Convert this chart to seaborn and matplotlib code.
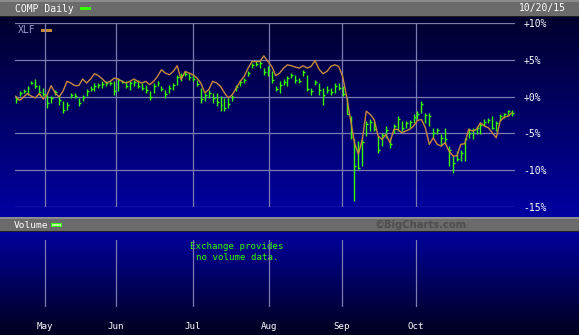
import numpy as np
import pandas as pd
import matplotlib
matplotlib.use("Agg")
import matplotlib.pyplot as plt
import matplotlib.patches as mpatches
from matplotlib.colors import to_rgb
import seaborn as sns

# ---------------- data (percent change) ----------------
comp_high = [0.05, 0.72, 1.04, 1.49, 2.07, 2.39, 1.62, 1.17, 0.27, 0.05,
             0.95, 0.27, -0.63, -0.77, 0.5, 0.5, -0.18, 0.27, 1.04, 1.4,
             1.85, 1.85, 2.07, 2.07, 2.07, 2.07, 2.52, 2.3, 2.07, 2.07,
             2.3,
             2.3, 1.85, 1.62, 0.72, 1.85, 2.07, 1.4, 0.95, 1.62, 1.85,
             2.97, 3.2, 3.42, 3.2, 2.97, 2.3, 1.17, 0.5, 0.95, 0.5,
             0.5, 0.05, -0.18, -0.18, 0.27, 1.62, 2.3, 2.52, 3.42, 4.55,
             4.77, 4.77,
             3.87, 4.1, 3.42, 1.4, 2.07, 2.39, 2.84, 3.2, 2.97, 2.52,
             3.65, 2.97, 1.17, 2.3, 1.85, 1.17, 1.4, 1.17, 1.85, 1.85,
             1.4, -0.18, -2.66, -5.81, -6.04, -5.81, -3.33, -3.11, -3.33, -5.36,
             -4.91, -4.01,
             -5.59, -3.69, -2.66, -3.33, -3.33, -3.24, -2.43, -1.98, -0.63, -2.21,
             -2.21, -4.23, -4.23, -5.14, -4.23, -6.71, -8.06, -7.39, -7.30, -5.59,
             -4.23, -4.23, -4.01, -3.56, -3.11, -2.97, -2.66, -3.33, -2.43, -2.21,
             -1.76, -1.76]
comp_low = [-0.86, 0.14, 0.5, 0.27, 1.71, 1.17, 0.27, 0.05, -1.53, -0.86,
            0.27, -1.08, -2.2, -1.76, -0.18, -0.18, -1.31, -0.63, 0.05, 0.72,
            0.72, 1.17, 1.17, 1.4, 1.62, 0.27, 0.72, 1.85, 1.17, 0.95,
            1.4,
            1.17, 0.95, 0.5, -0.41, 0.5, 1.4, 0.72, -0.18, 0.5, 0.95,
            1.62, 2.07, 2.75, 2.3, 2.07, 1.4, -0.86, -0.63, -0.18, -0.86,
            -1.31, -1.98, -1.98, -1.53, -0.63, 0.72, 1.4, 1.85, 2.75, 3.87,
            4.1, 3.87,
            2.97, 2.75, 1.85, 0.72, 0.5, 1.62, 1.4, 2.52, 1.85, 1.85,
            2.75, 0.72, 0.27, 1.62, 0.27, -1.08, 0.5, 0.27, 0.5, 0.95,
            0.05, -2.43, -5.81, -14.14, -9.86, -9.41, -5.36, -4.68, -4.68, -7.61,
            -6.71, -5.59,
            -6.94, -4.91, -4.68, -4.68, -4.23, -4.23, -3.56, -3.11, -2.21, -3.56,
            -4.01, -5.59, -5.14, -6.71, -6.49, -9.41, -10.32, -8.74, -8.74, -8.74,
            -5.59, -5.81, -5.14, -5.14, -4.01, -3.56, -4.46, -4.68, -3.33, -2.88,
            -2.66, -2.66]
comp_close = [-0.3, 0.5, 0.8, 1.2, 1.9, 1.5, 0.6, 0.4, -0.9, -0.2,
              0.6, -0.5, -1.8, -1.2, 0.2, 0.1, -0.9, 0.0, 0.7, 1.1,
              1.5, 1.6, 1.7, 1.8, 1.9, 0.8, 2.2, 2.0, 1.5, 1.8,
              2.0,
              1.5, 1.2, 0.9, 0.0, 1.4, 1.8, 1.0, 0.3, 1.2, 1.6,
              2.6, 2.9, 3.1, 2.6, 2.4, 1.7, -0.3, 0.2, 0.5, -0.2,
              -0.8, -1.2, -1.5, -1.0, -0.1, 1.3, 2.0, 2.3, 3.2, 4.3,
              4.4, 4.5,
              3.3, 3.6, 2.2, 1.0, 1.6, 2.0, 2.5, 2.9, 2.3, 2.1,
              3.3, 1.0, 0.8, 2.0, 0.9, 0.2, 0.9, 0.6, 1.4, 1.2,
              0.4, -2.3, -5.5, -9.4, -9.7, -6.2, -3.7, -3.4, -4.4, -7.2,
              -5.2, -4.5,
              -6.5, -4.0, -3.0, -4.2, -3.6, -3.5, -2.8, -2.3, -1.0, -2.5,
              -2.6, -5.0, -4.6, -5.6, -5.8, -7.2, -9.0, -8.5, -7.6, -5.8,
              -4.9, -4.5, -4.3, -3.8, -3.4, -3.2, -4.2, -3.6, -2.6, -2.4,
              -2.0, -2.2]
xlf = [0.05, -0.5, -0.05, 0.41, 0.05, -0.18, 0.41, -0.32, 0.27, 1.49,
       0.5, -0.05, 0.72, 2.07, 1.85, 1.49, 1.49, 2.39, 1.85, 2.39,
       3.11, 2.84, 2.39, 1.85, 2.07, 2.52, 2.39, 2.07, 1.85, 2.07,
       2.39,
       2.07, 1.85, 2.07, 1.62, 2.07, 2.75, 3.65, 3.2, 2.97, 3.42,
       4.19, 2.3, 3.42, 3.2, 2.97, 2.52, 1.85, 0.5, 0.95, 2.07,
       1.85, 1.4, 0.5, -0.18, 0.27, 1.17, 2.07, 2.75, 3.87, 4.77,
       4.77, 4.77,
       5.54, 4.77, 4.1, 2.84, 3.2, 3.87, 4.32, 4.19, 4.01, 3.87,
       4.19, 3.87, 4.1, 4.91, 3.74, 3.11, 3.42, 4.1, 4.32, 4.1,
       2.75, 0.05, -3.11, -6.26, -7.84, -5.81, -1.98, -2.43, -3.11, -5.36,
       -5.81, -5.14,
       -6.26, -4.46, -4.46, -4.91, -4.68, -4.46, -4.01, -3.24, -3.11, -4.23,
       -6.49, -5.59, -6.49, -6.71, -6.26, -7.39, -8.06, -8.06, -6.49, -6.40,
       -4.46, -4.68, -4.46, -3.56, -4.01, -4.23, -4.91, -5.59, -3.33, -2.79,
       -2.66, -2.21]

month_labels = ["May", "Jun", "Jul", "Aug", "Sep", "Oct"]
month_pos = [7.4, 25.5, 45.0, 64.3, 82.8, 101.6]   # in trading-day units
y_ticks = [10, 5, 0, -5, -10, -15]
y_labels = ["+10%", "+5%", "+0%", "-5%", "-10%", "-15%"]

df = pd.DataFrame({"day": np.arange(len(comp_high)), "high": comp_high,
                   "low": comp_low, "close": comp_close, "xlf": xlf})

# ---------------- styling ----------------
GREEN = "#33ff00"
ORANGE = "#c8893c"
GRID = "#7b7bb0"
MONO = "DejaVu Sans Mono"

W, H = 579, 335
fig = plt.figure(figsize=(W / 100, H / 100), dpi=100)


def rect(x0, y0, x1, y1):
    return [x0 / W, 1 - y1 / H, (x1 - x0) / W, (y1 - y0) / H]


# background bands and gradients (pixel-row colours)
bgimg = np.zeros((H, 1, 3))
gray = np.array(to_rgb("#6b6b6b"))
light = np.array(to_rgb("#8c8c8c"))
dark = np.array(to_rgb("#202020"))
bgimg[0:2] = light
bgimg[2:16] = gray
bgimg[16:17] = dark
top_c = np.array(to_rgb("#00002e"))
bot_c = np.array(to_rgb("#0000a2"))
n = 217 - 17
for i in range(n):
    t = i / (n - 1)
    bgimg[17 + i] = top_c * (1 - t) + bot_c * t
bgimg[217:219] = light
bgimg[219:231] = gray
bgimg[231:232] = dark
n2 = H - 232
c1 = np.array(to_rgb("#00009c"))
c2 = np.array(to_rgb("#00001e"))
for i in range(n2):
    t = i / (n2 - 1)
    bgimg[232 + i] = c1 * (1 - t) + c2 * t

bg = fig.add_axes([0, 0, 1, 1])
bg.imshow(bgimg, extent=[0, W, H, 0], aspect="auto", interpolation="nearest")
bg.set_xlim(0, W)
bg.set_ylim(H, 0)
bg.axis("off")

# header texts
bg.text(15, 8.5, "COMP Daily", color="white", fontsize=7, family=MONO,
        va="center", ha="left")
bg.add_patch(mpatches.Rectangle((80, 6.5), 11, 3.5, color=GREEN, lw=0))
bg.text(566, 8.5, "10/20/15", color="white", fontsize=7, family=MONO,
        va="center", ha="right")
bg.text(18, 30, "XLF", color="#9a9acc", fontsize=7, family=MONO,
        va="center", ha="left")
bg.add_patch(mpatches.Rectangle((41, 29), 11, 2.5, color=ORANGE, lw=0))

bg.text(14, 225, "Volume", color="white", fontsize=6.8, family=MONO,
        va="center", ha="left")
bg.add_patch(mpatches.Rectangle((51, 223.3), 11, 4, color=GREEN, lw=0))
bg.add_patch(mpatches.Rectangle((52, 224.3), 9, 2, color="#b8ff9a", lw=0))
bg.text(467, 224.5, "\u00a9BigCharts.com", color="#4e4e4e", fontsize=7.2,
        family="DejaVu Sans", fontweight="bold", va="center", ha="right")

bg.text(237, 252, "Exchange provides\nno volume data.", color=GREEN,
        fontsize=6.6, family=MONO, va="center", ha="center",
        linespacing=1.15)

# ---------------- main price panel ----------------
ax = fig.add_axes(rect(15, 23, 515, 207))
ax.set_facecolor("none")
ax.set_xlim(-0.18, len(df) - 1 + 0.76)
ax.set_ylim(-15, 10)
ax.set_xticks(month_pos)
ax.set_xticklabels([])
ax.set_yticks(y_ticks)
ax.set_yticklabels(y_labels)
ax.yaxis.tick_right()
ax.tick_params(axis="both", length=0)
ax.tick_params(axis="y", pad=6.2, labelcolor="white", labelsize=7)
for lab in ax.get_yticklabels():
    lab.set_family(MONO)
ax.grid(True, color=GRID, lw=0.9, zorder=0)
ax.set_axisbelow(True)
for s in ax.spines.values():
    s.set_visible(False)

ax.vlines(df["day"], df["low"], df["high"], color=GREEN, lw=1.0, zorder=2)
ax.hlines(df["close"], df["day"], df["day"] + 0.5, color=GREEN, lw=1.0,
          zorder=2)
sns.lineplot(data=df, x="day", y="xlf", color=ORANGE, lw=1.0, ax=ax,
             zorder=3, legend=False)
ax.set_xlabel("")
ax.set_ylabel("")

# ---------------- volume panel ----------------
axv = fig.add_axes(rect(15, 240, 515, 307))
axv.set_facecolor("none")
axv.set_xlim(ax.get_xlim())
axv.set_ylim(0, 1)
axv.set_xticks(month_pos)
axv.set_xticklabels(month_labels)
axv.set_yticks([])
axv.tick_params(axis="x", length=0, pad=10.5, labelcolor="white",
                labelsize=6.6)
for lab in axv.get_xticklabels():
    lab.set_family(MONO)
axv.grid(True, axis="x", color=GRID, lw=0.9)
for s in axv.spines.values():
    s.set_visible(False)

fig.savefig("out.png", dpi=100)
